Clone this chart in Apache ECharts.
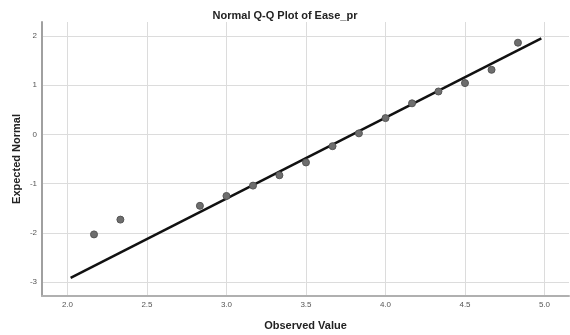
<!DOCTYPE html>
<html>
<head>
<meta charset="utf-8">
<script src="https://cdn.jsdelivr.net/npm/echarts@6/dist/echarts.min.js"></script>
<style>
  html, body { margin: 0; padding: 0; background: #fff; }
  #chart { width: 570px; height: 335px; }
</style>
</head>
<body>
<div id="chart"></div>
<script>
// Observed Ease_pr scores and their expected normal quantiles
const observedValues = [2.167, 2.333, 2.833, 3.0, 3.167, 3.333, 3.5, 3.667, 3.833, 4.0, 4.167, 4.333, 4.5, 4.667, 4.833];
const expectedNormal = [-2.03, -1.73, -1.45, -1.25, -1.04, -0.83, -0.57, -0.24, 0.02, 0.33, 0.63, 0.87, 1.04, 1.31, 1.86];

// Reference line end points
const refLineX = [2.02, 4.98];
const refLineY = [-2.91, 1.95];

const titleText = 'Normal Q-Q Plot of Ease_pr';
const xAxisName = 'Observed Value';
const yAxisName = 'Expected Normal';

const points = observedValues.map((v, i) => [v, expectedNormal[i]]);
const refLine = refLineX.map((v, i) => [v, refLineY[i]]);

const chart = echarts.init(document.getElementById('chart'), null, { renderer: 'canvas' });
const font = 'Liberation Sans, Arial, sans-serif';

chart.setOption({
  animation: false,
  backgroundColor: '#fff',
  title: {
    text: titleText,
    left: 'center',
    top: 5,
    textStyle: { fontFamily: font, fontSize: 11, fontWeight: 'bold', color: '#222' }
  },
  grid: { left: 42, right: 1, top: 22, bottom: 39, containLabel: false, outerBoundsMode: 'none' },
  xAxis: {
    type: 'value',
    min: 1.84,
    max: 5.154,
    name: xAxisName,
    nameLocation: 'middle',
    nameGap: 24,
    nameMoveOverlap: false,
    nameTextStyle: { fontFamily: font, fontSize: 11, fontWeight: 'bold', color: '#222' },
    axisLine: { show: true, onZero: false, lineStyle: { color: '#b0b0b0', width: 2 } },
    axisTick: { show: false },
    axisLabel: {
      fontFamily: font, fontSize: 8, color: '#555', margin: 5,
      showMinLabel: false, showMaxLabel: false,
      formatter: v => v.toFixed(1)
    },
    splitLine: { show: true, showMinLine: false, showMaxLine: false, lineStyle: { color: '#dcdcdc', width: 1 } }
  },
  yAxis: {
    type: 'value',
    min: -3.28,
    max: 2.28,
    name: yAxisName,
    nameLocation: 'middle',
    nameGap: 20,
    nameMoveOverlap: false,
    nameTextStyle: { fontFamily: font, fontSize: 11, fontWeight: 'bold', color: '#222' },
    axisLine: { show: true, onZero: false, lineStyle: { color: '#a0a0a0', width: 2 } },
    axisTick: { show: false },
    axisLabel: {
      fontFamily: font, fontSize: 8, color: '#555', margin: 5,
      showMinLabel: false, showMaxLabel: false,
      formatter: v => String(Math.round(v))
    },
    splitLine: { show: true, showMinLine: false, showMaxLine: false, lineStyle: { color: '#dcdcdc', width: 1 } }
  },
  series: [
    {
      type: 'line',
      data: refLine,
      symbol: 'none',
      lineStyle: { color: '#111', width: 2.5 },
      z: 2
    },
    {
      type: 'scatter',
      data: points,
      symbolSize: 7,
      itemStyle: { color: '#6e6e6e', borderColor: '#555', borderWidth: 1, opacity: 1 },
      z: 3
    }
  ]
});
</script>
</body>
</html>
